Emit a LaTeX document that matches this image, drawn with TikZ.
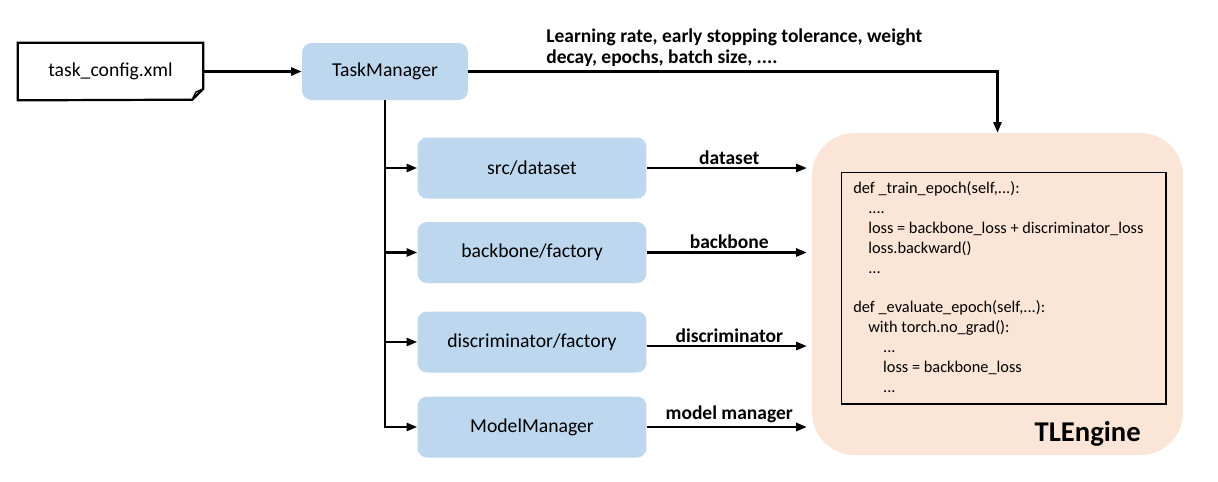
\documentclass[tikz,border=0pt]{standalone}
\usepackage{fontspec}
\setmainfont{Carlito}
\usetikzlibrary{arrows.meta}
\definecolor{boxblue}{HTML}{BDD7EE}
\definecolor{enginefill}{HTML}{FBE5D6}

\begin{document}
\begin{tikzpicture}[x=0.02cm,y=-0.02cm,
    every node/.style={font=\fontsize{11.2}{13.4}\selectfont},
    conn/.style={line width=1.25pt,-{Triangle[length=6pt,width=4.6pt]}},
    modbox/.style={fill=boxblue,rounded corners=5.5pt,minimum width=4.58cm,minimum height=1.22cm},
    lbl/.style={font=\bfseries\fontsize{11.1}{13.4}\selectfont,inner sep=1.5pt}]
			\useasboundingbox (0,0) rectangle (1218,481);
  			\node[fill=enginefill,rounded corners=0.85cm,minimum width=7.42cm,minimum height=6.44cm] (eng) at (997.5,294) {}; % TLEngine
  			\node[draw,line width=0.6pt,minimum width=6.5cm,minimum height=4.64cm] (code) at (1003.5,288) {}; % code box
  			\node[anchor=north west,inner sep=0,align=left,font=\fontsize{9.3}{11.34}\selectfont] (codetxt) at (853,181) {%
  				def \_train\_epoch(self,...):\\
  				\hspace*{8.5pt}....\\
  				\hspace*{8.5pt}loss = backbone\_loss + discriminator\_loss\\
  				\hspace*{8.5pt}loss.backward()\\
  				\hspace*{8.5pt}...\\[11.34pt]
  				def \_evaluate\_epoch(self,...):\\
  				\hspace*{8.5pt}with torch.no\_grad():\\
  				\hspace*{17pt}...\\
  				\hspace*{17pt}loss = backbone\_loss\\
  				\hspace*{17pt}...}; % code
  			\node[anchor=base east,inner sep=0,font=\bfseries\fontsize{16.3}{19}\selectfont] (englbl) at (1141,441) {TLEngine}; % Label for TLEngine
  			\node[minimum width=3.7cm,minimum height=1.14cm] (cfg) at (110.5,71.5) {task\_config.xml}; % config file
  			\draw[line width=1.25pt] (cfg.north west) -- (cfg.north east) -- ++(0,46) -- ++(-11,11) -- (cfg.south west) -- cycle; % Outline of config file
  			\draw[line width=0.8pt] (192,100) -- (196,92) -- (203,89); % fold
  			\node[modbox,minimum width=3.32cm,minimum height=1.14cm] (tm) at (385,71.5) {TaskManager};
  			\node[modbox] (ds) at (532,168) {src/dataset};
  			\node[modbox] (bf) at (532,252.5) {backbone/factory};
  			\node[modbox] (df) at (532,342) {discriminator/factory};
  			\node[modbox] (mm) at (532,427) {ModelManager};
  			\node[anchor=north west,inner sep=0,align=left,font=\bfseries\fontsize{11.1}{12.47}\selectfont] (hp) at (546,28) {Learning rate, early stopping tolerance, weight\\decay, epochs, batch size, ....}; % hyper parameters
  			\draw[conn] (cfg.east) -- (tm.west);
  			\draw[conn] (tm.east) -| (eng.north);
  			\draw[conn] (tm.south) |- (mm.west);
  			\draw[conn] (tm.south |- ds.west) -- (ds.west);
  			\draw[conn] (tm.south |- bf.west) -- (bf.west);
  			\draw[conn] (tm.south |- df.west) -- (df.west);
  			\draw[conn,shorten >=2.8pt] (ds.east) -- node[lbl,above] {dataset} (ds.east -| eng.west);
  			\draw[conn,shorten >=2.8pt] (bf.east) -- node[lbl,above] {backbone} (bf.east -| eng.west);
  			\draw[conn,shorten >=2.8pt] ([yshift=-2.3pt]df.east) -- node[lbl,above] {discriminator} ([yshift=-2.3pt]df.east -| eng.west);
  			\draw[conn,shorten >=2.8pt] (mm.east) -- node[lbl,above] {model manager} (mm.east -| eng.west);
		\end{tikzpicture}
\end{document}
